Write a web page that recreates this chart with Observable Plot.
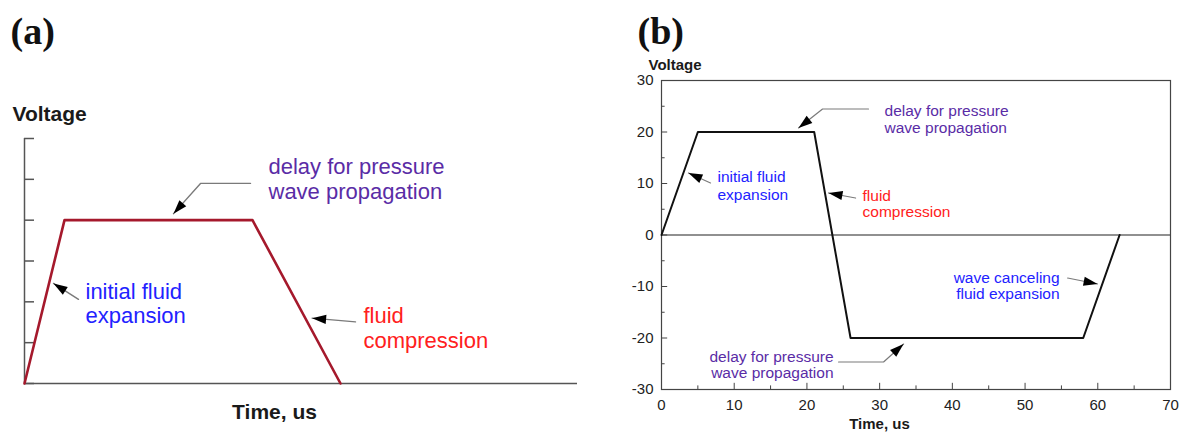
<!DOCTYPE html>
<html><head><meta charset="utf-8">
<script src="https://cdn.jsdelivr.net/npm/d3@7"></script>
<script src="https://cdn.jsdelivr.net/npm/@observablehq/plot@0.6"></script>
<style>
body{margin:0;background:#fff;}
#wrap{position:relative;width:1187px;height:432px;overflow:hidden;background:#fff;}
#a{position:absolute;left:0;top:0;}
#b{position:absolute;left:600px;top:0;}
</style></head><body><div id="wrap"><div id="a"></div><div id="b"></div></div>
<script>
// ---------- Panel (a) data (arbitrary units, no tick labels) ----------
const timeA = [0, 1, 5.7, 7.9];
const voltA = [0, 4, 4, 0];
const yTicksA = [0, 1, 2, 3, 4, 5, 6];
const labelsA = [
  {text: "delay for pressure", x: 6.1, y: 5.14, kind: "delay"},
  {text: "wave propagation", x: 6.1, y: 4.51, kind: "delay"},
  {text: "initial fluid", x: 1.525, y: 2.06, kind: "expansion"},
  {text: "expansion", x: 1.525, y: 1.47, kind: "expansion"},
  {text: "fluid", x: 8.475, y: 1.49, kind: "compression"},
  {text: "compression", x: 8.475, y: 0.88, kind: "compression"}
];
const arrowsA = [
  {id: "delay", pts: [[5.65, 4.9], [4.4, 4.9], [3.725, 4.16]]},
  {id: "expansion", pts: [[1.35, 2.06], [0.725, 2.45]]},
  {id: "compression", pts: [[8.275, 1.51], [7.19, 1.6]]}
];

// ---------- Panel (b) data ----------
const timeB = [0, 5, 21, 26, 58, 63];
const voltB = [0, 20, 20, -20, -20, 0];
const xTicksB = [0, 10, 20, 30, 40, 50, 60, 70];
const xMinorB = [5, 15, 25, 35, 45, 55, 65];
const yTicksB = [-30, -20, -10, 0, 10, 20, 30];
const yMinorB = [-25, -15, -5, 5, 15, 25];
const labelsB = [
  {text: "delay for pressure", x: 30.67, y: 23.1, kind: "delay", anchor: "start"},
  {text: "wave propagation", x: 30.67, y: 19.8, kind: "delay", anchor: "start"},
  {text: "initial fluid", x: 7.7, y: 10.2, kind: "expansion", anchor: "start"},
  {text: "expansion", x: 7.7, y: 6.8, kind: "expansion", anchor: "start"},
  {text: "fluid", x: 27.65, y: 6.6, kind: "compression", anchor: "start"},
  {text: "compression", x: 27.65, y: 3.5, kind: "compression", anchor: "start"},
  {text: "wave canceling", x: 54.75, y: -9.38, kind: "expansion", anchor: "end"},
  {text: "fluid expansion", x: 54.75, y: -12.43, kind: "expansion", anchor: "end"},
  {text: "delay for pressure", x: 23.66, y: -24.6, kind: "delay", anchor: "end"},
  {text: "wave propagation", x: 23.66, y: -27.77, kind: "delay", anchor: "end"}
];
const arrowsB = [
  {id: "delayTop", pts: [[28.47, 24.47], [22.15, 24.47], [18.84, 20.78]]},
  {id: "initial", pts: [[6.74, 10.1], [3.71, 12.04]]},
  {id: "compression", pts: [[26.69, 7.18], [22.97, 8.16]]},
  {id: "canceling", pts: [[55.85, -8.35], [59.97, -9.51]]},
  {id: "delayBottom", pts: [[24.35, -24.66], [30.54, -24.66], [33.29, -21.17]]}
];

// ---------- helpers ----------
const FONT = "'Liberation Sans', Arial, Helvetica, sans-serif";
const SERIF = "'Liberation Serif', 'Times New Roman', serif";
const colorOf = {delay: "#5a2ca6", expansion: "#2222ff", compression: "#ff2020"};

function shafts(arrows) {
  return arrows.flatMap(a => a.pts.map(([x, y]) => ({id: a.id, x, y})));
}
function heads(arrows, sx, sy) {
  return arrows.map(a => {
    const n = a.pts.length;
    const [x0, y0] = a.pts[n - 2], [x1, y1] = a.pts[n - 1];
    const dx = sx.apply(x1) - sx.apply(x0), dy = sy.apply(y1) - sy.apply(y0);
    return {x: x1, y: y1, angle: Math.atan2(dx, -dy) * 180 / Math.PI};
  });
}
const headSymbol = {
  draw(ctx) {
    ctx.moveTo(0, 0);
    ctx.lineTo(4.6, 14);
    ctx.lineTo(-4.6, 14);
    ctx.closePath();
  }
};
function labelMarks(labels, fontSize) {
  return Object.keys(colorOf).flatMap(kind => ["start", "end"].map(anchor =>
    Plot.text(labels.filter(d => d.kind === kind && (d.anchor || "start") === anchor), {
      x: "x", y: "y", text: "text", fill: colorOf[kind], textAnchor: anchor,
      lineAnchor: "bottom", fontSize
    })
  ));
}

// ---------- Panel (a) ----------
const A = {width: 600, height: 432, ml: 24, mr: 23, mt: 138, mb: 49, xd: [0, 13.825], yd: [0, 6]};
const sxA = Plot.scale({x: {domain: A.xd, range: [A.ml, A.width - A.mr]}});
const syA = Plot.scale({y: {domain: A.yd, range: [A.height - A.mb, A.mt]}});
const plotA = Plot.plot({
  width: A.width, height: A.height,
  marginLeft: A.ml, marginRight: A.mr, marginTop: A.mt, marginBottom: A.mb,
  x: {domain: A.xd, axis: null},
  y: {domain: A.yd, axis: null},
  style: {fontFamily: FONT, background: "white", overflow: "visible"},
  marks: [
    Plot.ruleX([0], {y1: A.yd[0], y2: A.yd[1], stroke: "#555", strokeWidth: 1.5}),
    Plot.ruleY([0], {x1: A.xd[0], x2: A.xd[1], stroke: "#555", strokeWidth: 1.5}),
    Plot.ruleY(yTicksA, {y: d => d, x1: 0, x2: 0.25, stroke: "#555", strokeWidth: 1.5}),
    Plot.line(timeA.map((t, i) => ({t, v: voltA[i]})), {x: "t", y: "v", stroke: "#a5192c", strokeWidth: 2.6}),
    Plot.line(shafts(arrowsA), {x: "x", y: "y", z: "id", stroke: "#7a7a7a", strokeWidth: 1.4}),
    Plot.dot(heads(arrowsA, sxA, syA), {x: "x", y: "y", rotate: "angle", symbol: headSymbol, fill: "#000", stroke: "none"}),
    ...labelMarks(labelsA, 22),
    Plot.text(["Voltage"], {frameAnchor: "top-left", dx: -12, dy: -18, lineAnchor: "bottom", textAnchor: "start", fontSize: 21, fontWeight: "bold", fill: "#1a1a1a"}),
    Plot.text(["Time, us"], {frameAnchor: "bottom", dx: -26.5, dy: 35, lineAnchor: "bottom", fontSize: 21, fontWeight: "bold", fill: "#1a1a1a"}),
    Plot.text(["(a)"], {frameAnchor: "top-left", dx: -14, dy: -95, lineAnchor: "bottom", textAnchor: "start", fontSize: 38, fontWeight: "bold", fontFamily: SERIF, fill: "#111"})
  ]
});
document.getElementById("a").appendChild(plotA);

// ---------- Panel (b) ----------
const B = {width: 587, height: 432, ml: 61, mr: 17, mt: 80, mb: 43, xd: [0, 70], yd: [-30, 30]};
const sxB = Plot.scale({x: {domain: B.xd, range: [B.ml, B.width - B.mr]}});
const syB = Plot.scale({y: {domain: B.yd, range: [B.height - B.mb, B.mt]}});
const plotB = Plot.plot({
  width: B.width, height: B.height,
  marginLeft: B.ml, marginRight: B.mr, marginTop: B.mt, marginBottom: B.mb,
  x: {domain: B.xd},
  y: {domain: B.yd},
  style: {fontFamily: FONT, background: "white", overflow: "visible"},
  marks: [
    Plot.frame({stroke: "#444", strokeWidth: 1.2}),
    Plot.ruleY([0], {stroke: "#222", strokeWidth: 1.1}),
    Plot.ruleX(xTicksB, {x: d => d, y1: -30, y2: -28.8, stroke: "#444"}),
    Plot.ruleX(xMinorB, {x: d => d, y1: -30, y2: -29.3, stroke: "#444"}),
    Plot.ruleY(yTicksB, {y: d => d, x1: 0, x2: 0.85, stroke: "#444"}),
    Plot.ruleY(yMinorB, {y: d => d, x1: 0, x2: 0.5, stroke: "#444"}),
    Plot.axisX(xTicksB, {tickSize: 0, tickPadding: 10, fontSize: 15, label: null, tickFormat: d => String(d), fill: "#222"}),
    Plot.axisY(yTicksB, {tickSize: 0, tickPadding: 8, fontSize: 15, label: null, tickFormat: d => String(d), fill: "#222"}),
    Plot.line(timeB.map((t, i) => ({t, v: voltB[i]})), {x: "t", y: "v", stroke: "#111", strokeWidth: 2}),
    Plot.line(shafts(arrowsB), {x: "x", y: "y", z: "id", stroke: "#7a7a7a", strokeWidth: 1.2}),
    Plot.dot(heads(arrowsB, sxB, syB), {x: "x", y: "y", rotate: "angle", symbol: headSymbol, fill: "#000", stroke: "none"}),
    ...labelMarks(labelsB, 15.5),
    Plot.text(["Voltage"], {frameAnchor: "top-left", dx: -13, dy: -11, lineAnchor: "bottom", textAnchor: "start", fontSize: 15, fontWeight: "bold", fill: "#1a1a1a"}),
    Plot.text(["Time, us"], {frameAnchor: "bottom", dx: -36.5, dy: 39, lineAnchor: "bottom", fontSize: 15, fontWeight: "bold", fill: "#1a1a1a"}),
    Plot.text(["(b)"], {frameAnchor: "top-left", dx: -24, dy: -37, lineAnchor: "bottom", textAnchor: "start", fontSize: 38, fontWeight: "bold", fontFamily: SERIF, fill: "#111"})
  ]
});
document.getElementById("b").appendChild(plotB);
</script>
</body></html>
